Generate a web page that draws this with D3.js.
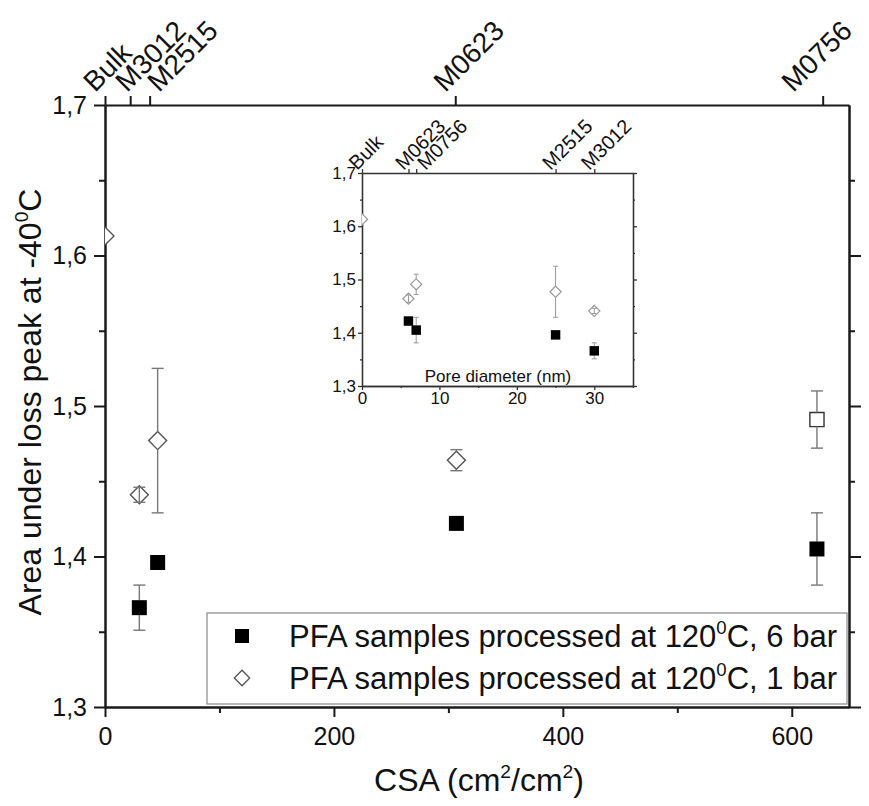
<!DOCTYPE html>
<html>
<head>
<meta charset="utf-8">
<script src="https://cdn.jsdelivr.net/npm/d3@7"></script>
<style>
  body { margin: 0; background: #fff; }
  svg { display: block; }
  text { font-family: "Liberation Sans", Arial, sans-serif; fill: #111; }
</style>
</head>
<body>
<svg id="chart" width="869" height="806"></svg>
<script>
// ---- data ----
const samples        = ["Bulk", "M3012", "M2515", "M0623", "M0756"];
const csa            = [0, 30, 46, 307, 622];      // cm²/cm², marker positions
const sampleTickCSA  = [0, 22, 39, 306, 627];      // top-axis sample ticks
const poreDiameter   = [0, 30, 25, 6, 7];          // nm
const area6bar       = [null, 1.366, 1.396, 1.422, 1.405];
const err6bar        = [null, 0.015, 0, 0, 0.024];
const area1bar       = [1.613, 1.441, 1.477, 1.464, 1.491];
const err1bar        = [0, 0.005, 0.048, 0.007, 0.019];

const csaTicks       = [0, 200, 400, 600];
const csaMinorTicks  = [100, 300, 500];
const areaTicks      = [1.3, 1.4, 1.5, 1.6, 1.7];
const areaMinorTicks = [1.35, 1.45, 1.55, 1.65];
const poreTicks      = [0, 10, 20, 30];
const poreMinorTicks = [5, 15, 25, 35];

const legendLabels = [
  ["PFA samples processed at 120", "0", "C, 6 bar"],
  ["PFA samples processed at 120", "0", "C, 1 bar"]
];
const yTitle = ["Area under loss peak at -40", "0", "C"];
const xTitle = ["CSA (cm", "2", "/cm", "2", ")"];
const insetXTitle = "Pore diameter (nm)";

// ---- helpers ----
const W = 869;
const svg = d3.select("#chart");
const fmt = d => d3.format(".1f")(d).replace(".", ",");

const rows = samples.map((s, i) => ({
  sample: s, csa: csa[i], pore: poreDiameter[i],
  v6: area6bar[i], e6: err6bar[i], v1: area1bar[i], e1: err1bar[i]
}));

// text with superscript pieces: parts alternate normal / super
function richText(sel, parts, fs) {
  parts.forEach((p, i) => {
    const sup = i % 2 === 1;
    const t = sel.append("tspan").text(p);
    if (sup) t.attr("font-size", fs * 0.6).attr("dy", -fs * 0.42);
    else if (i > 0) t.attr("dy", fs * 0.42);
  });
}

function errorBar(g, cx, yScale, v, e, r, cap, color, width) {
  if (!e) return;
  const yt = yScale(v + e), yb = yScale(v - e), yc = yScale(v);
  if (yc - yt > r) {
    g.append("line").attr("x1", cx).attr("x2", cx).attr("y1", yt).attr("y2", yc - r)
      .attr("stroke", color).attr("stroke-width", width);
    g.append("line").attr("x1", cx).attr("x2", cx).attr("y1", yc + r).attr("y2", yb)
      .attr("stroke", color).attr("stroke-width", width);
  } else {
    g.append("line").attr("x1", cx).attr("x2", cx).attr("y1", yt).attr("y2", yb)
      .attr("stroke", color).attr("stroke-width", width);
  }
  [yt, yb].forEach(yy => g.append("line")
    .attr("x1", cx - cap / 2).attr("x2", cx + cap / 2).attr("y1", yy).attr("y2", yy)
    .attr("stroke", color).attr("stroke-width", width));
}

function styleAxis(g, sw, color) {
  g.select(".domain").attr("stroke", color).attr("stroke-width", sw);
  g.selectAll(".tick line").attr("stroke", color).attr("stroke-width", sw);
}

// rotated (-45°) sample labels, spread apart so neighbours don't collide
// and kept inside the drawing width
function rotatedLabels(parent, positions, names, y0, offset, minGap, fs) {
  let prev = -Infinity;
  positions.forEach((px, i) => {
    let ax = Math.max(px + offset, prev + minGap);
    const t = parent.append("text").attr("font-size", fs).text(names[i]);
    const len = t.node().getComputedTextLength();
    const reach = (len + 0.72 * fs) * Math.SQRT1_2;
    ax = Math.min(ax, W - 1 - reach);
    prev = ax;
    t.attr("transform", `translate(${ax},${y0}) rotate(-45)`);
  });
}

// ---- main plot ----
const M = { left: 105, right: 849, top: 105, bottom: 707 };
const x = d3.scaleLinear().domain([0, 650]).range([M.left, M.right]);
const y = d3.scaleLinear().domain([1.3, 1.7]).range([M.bottom, M.top]);

const defs = svg.append("defs");
defs.append("clipPath").attr("id", "mainClip")
  .append("rect").attr("x", M.left).attr("y", M.top)
  .attr("width", M.right - M.left).attr("height", M.bottom - M.top);

const axisColor = "#1a1a1a";

// left axis
const gL = svg.append("g").attr("transform", `translate(${M.left},0)`)
  .call(d3.axisLeft(y).tickValues(areaTicks).tickSize(11).tickSizeOuter(0).tickPadding(7).tickFormat(fmt));
gL.selectAll(".tick text").attr("font-size", 25).attr("fill", "#111");
styleAxis(gL, 2, axisColor);
svg.append("g").attr("transform", `translate(${M.left},0)`)
  .call(d3.axisLeft(y).tickValues(areaMinorTicks).tickSize(6).tickSizeOuter(0).tickFormat(""))
  .call(g => styleAxis(g, 2, axisColor));

// right axis
svg.append("g").attr("transform", `translate(${M.right},0)`)
  .call(d3.axisRight(y).tickValues(areaTicks.slice(0, -1)).tickSize(12).tickSizeOuter(0).tickFormat(""))
  .call(g => styleAxis(g, 2, axisColor));
svg.append("g").attr("transform", `translate(${M.right},0)`)
  .call(d3.axisRight(y).tickValues(areaMinorTicks).tickSize(6).tickSizeOuter(0).tickFormat(""))
  .call(g => styleAxis(g, 2, axisColor));

// bottom axis
const gB = svg.append("g").attr("transform", `translate(0,${M.bottom})`)
  .call(d3.axisBottom(x).tickValues(csaTicks).tickSize(10).tickSizeOuter(0).tickPadding(10).tickFormat(d3.format("d")));
gB.selectAll(".tick text").attr("font-size", 25).attr("fill", "#111");
styleAxis(gB, 2, axisColor);
svg.append("g").attr("transform", `translate(0,${M.bottom})`)
  .call(d3.axisBottom(x).tickValues(csaMinorTicks).tickSize(6).tickSizeOuter(0).tickFormat(""))
  .call(g => styleAxis(g, 2, axisColor));

// top axis with sample names
const gT = svg.append("g").attr("transform", `translate(0,${M.top})`)
  .call(d3.axisTop(x).tickValues(sampleTickCSA).tickSize(9).tickSizeOuter(0).tickFormat(""));
styleAxis(gT, 2, axisColor);

const topOrder = d3.range(samples.length).sort((a, b) => sampleTickCSA[a] - sampleTickCSA[b]);
rotatedLabels(svg, topOrder.map(i => x(sampleTickCSA[i])), topOrder.map(i => samples[i]), 93, -10, 32, 28);

// markers, main plot
const plot = svg.append("g").attr("clip-path", "url(#mainClip)");
const sq = d3.symbol(d3.symbolSquare, 225);
const dia = d3.symbol(d3.symbolSquare, 162);
const openSq = d3.symbol(d3.symbolSquare, 200);
const openColor = "#555";
const errColor = "#777";

// 1 bar series (open markers)
rows.forEach(d => {
  const cx = x(d.csa), cy = y(d.v1);
  const isSquare = d.sample === "M0756";
  plot.append("path")
    .attr("d", isSquare ? openSq() : dia())
    .attr("transform", `translate(${cx},${cy})` + (isSquare ? "" : " rotate(45)"))
    .attr("fill", "#fff").attr("stroke", isSquare ? "#333" : openColor).attr("stroke-width", 1.4);
  errorBar(plot, cx, y, d.v1, d.e1, isSquare ? 7 : 9, 12, errColor, 1.4);
});
// 6 bar series (filled squares)
rows.filter(d => d.v6 != null).forEach(d => {
  const cx = x(d.csa), cy = y(d.v6);
  errorBar(plot, cx, y, d.v6, d.e6, 7.5, 12, errColor, 1.4);
  plot.append("path").attr("d", sq()).attr("transform", `translate(${cx},${cy})`).attr("fill", "#000");
});

// axis titles
const yt = svg.append("text")
  .attr("transform", `translate(41,${(M.top + M.bottom) / 2 - 4}) rotate(-90)`)
  .attr("text-anchor", "middle").attr("font-size", 32);
richText(yt, yTitle, 32);

const xt = svg.append("text")
  .attr("x", (M.left + M.right) / 2 + 2).attr("y", 791)
  .attr("text-anchor", "middle").attr("font-size", 32);
richText(xt, xTitle, 32);

// legend
const lg = svg.append("g");
lg.append("rect").attr("x", 207).attr("y", 613).attr("width", 640).attr("height", 91)
  .attr("fill", "#fff").attr("stroke", "#888").attr("stroke-width", 1.2);
legendLabels.forEach((parts, i) => {
  const cy = 636 + i * 42;
  if (i === 0) {
    lg.append("path").attr("d", d3.symbol(d3.symbolSquare, 196)()).attr("transform", `translate(242,${cy})`).attr("fill", "#000");
  } else {
    lg.append("path").attr("d", d3.symbol(d3.symbolSquare, 120)()).attr("transform", `translate(242,${cy}) rotate(45)`)
      .attr("fill", "#fff").attr("stroke", openColor).attr("stroke-width", 1.3);
  }
  const t = lg.append("text").attr("x", 289).attr("y", cy + 11).attr("font-size", 31);
  richText(t, parts, 31);
});

// ---- inset: area vs pore diameter ----
const I = { left: 362, right: 633, top: 173, bottom: 386 };
const xi = d3.scaleLinear().domain([0, 35]).range([I.left, I.right]);
const yi = d3.scaleLinear().domain([1.3, 1.7]).range([I.bottom, I.top]);
const inset = svg.append("g");
inset.append("rect").attr("x", I.left).attr("y", I.top)
  .attr("width", I.right - I.left).attr("height", I.bottom - I.top).attr("fill", "#fff");
defs.append("clipPath").attr("id", "insetClip")
  .append("rect").attr("x", I.left).attr("y", I.top)
  .attr("width", I.right - I.left).attr("height", I.bottom - I.top);

const insetAxis = "#333";
const giL = inset.append("g").attr("transform", `translate(${I.left},0)`)
  .call(d3.axisLeft(yi).tickValues(areaTicks).tickSize(4).tickSizeOuter(0).tickPadding(2).tickFormat(fmt));
giL.selectAll(".tick text").attr("font-size", 17).attr("fill", "#222");
styleAxis(giL, 1.3, insetAxis);
inset.append("g").attr("transform", `translate(${I.left},0)`)
  .call(d3.axisLeft(yi).tickValues(areaMinorTicks).tickSize(2).tickSizeOuter(0).tickFormat(""))
  .call(g => styleAxis(g, 1.3, insetAxis));
inset.append("g").attr("transform", `translate(${I.right},0)`)
  .call(d3.axisRight(yi).tickValues(areaTicks).tickSize(4).tickSizeOuter(0).tickFormat(""))
  .call(g => styleAxis(g, 1.3, insetAxis));
inset.append("g").attr("transform", `translate(${I.right},0)`)
  .call(d3.axisRight(yi).tickValues(areaMinorTicks).tickSize(2).tickSizeOuter(0).tickFormat(""))
  .call(g => styleAxis(g, 1.3, insetAxis));
const giB = inset.append("g").attr("transform", `translate(0,${I.bottom})`)
  .call(d3.axisBottom(xi).tickValues(poreTicks).tickSize(4).tickSizeOuter(0).tickPadding(2).tickFormat(d3.format("d")));
giB.selectAll(".tick text").attr("font-size", 17).attr("fill", "#222");
styleAxis(giB, 1.3, insetAxis);
inset.append("g").attr("transform", `translate(0,${I.bottom})`)
  .call(d3.axisBottom(xi).tickValues(poreMinorTicks).tickSize(2).tickSizeOuter(0).tickFormat(""))
  .call(g => styleAxis(g, 1.3, insetAxis));
const giT = inset.append("g").attr("transform", `translate(0,${I.top})`)
  .call(d3.axisTop(xi).tickValues(poreDiameter).tickSize(4).tickSizeOuter(0).tickFormat(""));
styleAxis(giT, 1.3, insetAxis);

const insetOrder = d3.range(samples.length).sort((a, b) => poreDiameter[a] - poreDiameter[b]);
rotatedLabels(inset, insetOrder.map(i => xi(poreDiameter[i])), insetOrder.map(i => samples[i]), 171, -5, 22, 20);

inset.append("text").attr("x", 498).attr("y", 382).attr("text-anchor", "middle")
  .attr("font-size", 17).attr("fill", "#222").text(insetXTitle);

const ip = inset.append("g").attr("clip-path", "url(#insetClip)");
const iDia = d3.symbol(d3.symbolSquare, 62);
const iSq = d3.symbol(d3.symbolSquare, 90);
const insetOpen = "#999";
rows.forEach(d => {
  const cx = xi(d.pore), cy = yi(d.v1);
  ip.append("path").attr("d", iDia()).attr("transform", `translate(${cx},${cy}) rotate(45)`)
    .attr("fill", "#fff").attr("stroke", insetOpen).attr("stroke-width", 1.2);
  errorBar(ip, cx, yi, d.v1, d.e1, 5.5, 5, insetOpen, 1);
});
rows.filter(d => d.v6 != null).forEach(d => {
  const cx = xi(d.pore), cy = yi(d.v6);
  errorBar(ip, cx, yi, d.v6, d.e6, 4.8, 5, insetOpen, 1);
  ip.append("path").attr("d", iSq()).attr("transform", `translate(${cx},${cy})`).attr("fill", "#000");
});
</script>
</body>
</html>
